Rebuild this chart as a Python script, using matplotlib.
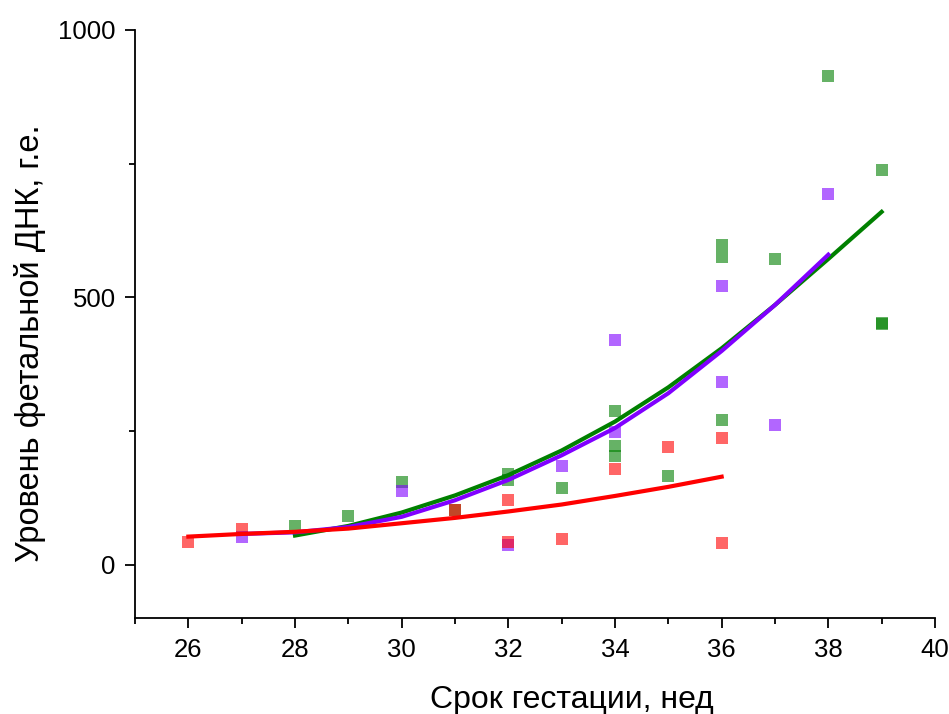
import matplotlib
matplotlib.use('Agg')
import matplotlib.pyplot as plt
from matplotlib.ticker import MultipleLocator

plt.rcParams['font.family'] = ['Liberation Sans', 'DejaVu Sans']

# scatter points (week, level)
green_x = [28, 29, 30, 31, 32, 32, 33, 34, 34, 34, 35, 36, 36, 36, 37, 38, 39, 39, 39]
green_y = [72, 92, 155, 103, 170, 158, 144, 288, 222, 204, 167, 598, 576, 271, 572, 914, 738, 452, 450]

purple_x = [27, 30, 32, 33, 34, 34, 36, 36, 37, 38]
purple_y = [52, 138, 37, 185, 421, 249, 521, 342, 262, 693]

red_x = [26, 27, 31, 32, 32, 33, 34, 35, 36, 36]
red_y = [43, 67, 103, 121, 43, 49, 179, 220, 237, 41]

# fitted curves at each week
green_fit_x = [28, 29, 30, 31, 32, 33, 34, 35, 36, 37, 38, 39]
green_fit_y = [55, 73, 98, 130, 168, 214, 268, 332, 405, 486, 572, 660]

purple_fit_x = [27, 28, 29, 30, 31, 32, 33, 34, 35, 36, 37, 38]
purple_fit_y = [58, 61, 71, 90, 121, 159, 205, 256, 321, 400, 486, 580]

red_fit_x = [26, 27, 28, 29, 30, 31, 32, 33, 34, 35, 36]
red_fit_y = [53, 58, 62, 68, 78, 88, 100, 113, 129, 146, 165]

fig = plt.figure(figsize=(9.49, 7.14), dpi=100)
ax = fig.add_axes([0.1423, 0.1338, 0.8429, 0.8242])

ms = 8.6
ax.plot(green_x, green_y, 's', color='#008000', alpha=0.6, ms=ms, mew=0, zorder=2)
ax.plot(purple_x, purple_y, 's', color='#8000ff', alpha=0.6, ms=ms, mew=0, zorder=3)
ax.plot(red_x, red_y, 's', color='#ff0000', alpha=0.6, ms=ms, mew=0, zorder=4)

ax.plot(green_fit_x, green_fit_y, color='#008000', lw=3.0, zorder=5, solid_joinstyle='round')
ax.plot(purple_fit_x, purple_fit_y, color='#8000ff', lw=3.0, zorder=6, solid_joinstyle='round')
ax.plot(red_fit_x, red_fit_y, color='#ff0000', lw=3.0, zorder=7, solid_joinstyle='round')

ax.set_xlim(25, 40)
ax.set_ylim(-100, 1000)
ax.xaxis.set_major_locator(MultipleLocator(2))
ax.xaxis.set_minor_locator(MultipleLocator(1))
ax.yaxis.set_major_locator(MultipleLocator(500))
ax.yaxis.set_minor_locator(MultipleLocator(250))

for s in ['top', 'right']:
    ax.spines[s].set_visible(False)
for s in ['left', 'bottom']:
    ax.spines[s].set_linewidth(1.3)

ax.tick_params(which='major', direction='out', length=7, width=1.3, labelsize=18.5, pad=7)
ax.tick_params(which='minor', direction='out', length=4, width=1.3)

ax.set_xlabel('Срок гестации, нед', fontsize=23)
ax.set_ylabel('Уровень фетальной ДНК, г.е.', fontsize=23.5)
ax.xaxis.set_label_coords(0.546, -0.139)
ax.yaxis.set_label_coords(-0.131, 0.468)
ax.xaxis.label.set_va('center')
ax.yaxis.label.set_va('center')

fig.savefig('out.png', dpi=100)
